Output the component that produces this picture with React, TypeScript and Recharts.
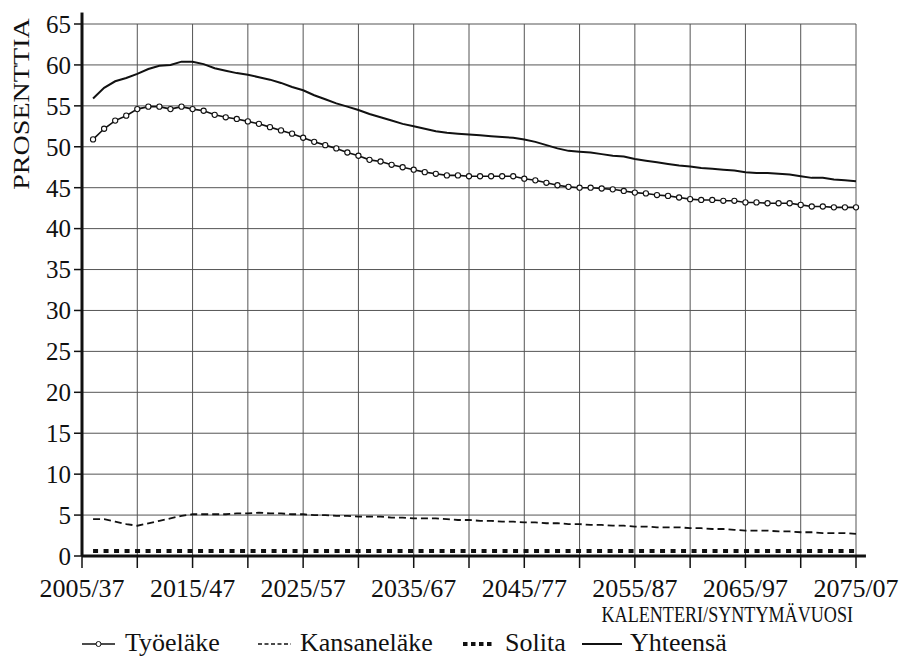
import { LineChart, Line, XAxis, YAxis, CartesianGrid, ReferenceLine } from 'recharts';

const years = Array.from({ length: 70 }, (_, i) => 2006 + i);

const tyoelake = [
  50.9, 52.2, 53.2, 53.8, 54.6, 54.9, 54.9, 54.6, 54.9, 54.6,
  54.4, 53.9, 53.6, 53.4, 53.1, 52.8, 52.4, 52.0, 51.6, 51.1,
  50.6, 50.2, 49.8, 49.3, 48.9, 48.4, 48.2, 47.8, 47.5, 47.2,
  46.9, 46.7, 46.5, 46.5, 46.4, 46.4, 46.4, 46.4, 46.4, 46.1,
  45.9, 45.6, 45.3, 45.1, 45.0, 45.0, 44.9, 44.8, 44.6, 44.4,
  44.3, 44.1, 44.0, 43.8, 43.6, 43.5, 43.5, 43.4, 43.4, 43.2,
  43.2, 43.1, 43.1, 43.1, 42.9, 42.7, 42.7, 42.6, 42.6, 42.6,
];

const kansanelake = [
  4.5, 4.5, 4.2, 3.9, 3.7, 4.0, 4.3, 4.6, 4.9, 5.1,
  5.1, 5.1, 5.1, 5.2, 5.2, 5.3, 5.2, 5.2, 5.1, 5.1,
  5.0, 5.0, 4.9, 4.9, 4.8, 4.8, 4.8, 4.7, 4.7, 4.6,
  4.6, 4.6, 4.5, 4.4, 4.4, 4.3, 4.3, 4.2, 4.2, 4.1,
  4.1, 4.0, 4.0, 3.9, 3.9, 3.8, 3.8, 3.7, 3.7, 3.6,
  3.6, 3.5, 3.5, 3.5, 3.4, 3.4, 3.3, 3.3, 3.2, 3.1,
  3.1, 3.1, 3.0, 3.0, 2.9, 2.9, 2.8, 2.8, 2.8, 2.7,
];

const solita = [
  0.6, 0.6, 0.6, 0.6, 0.6, 0.6, 0.6, 0.6, 0.6, 0.6,
  0.6, 0.6, 0.6, 0.6, 0.6, 0.6, 0.6, 0.6, 0.6, 0.6,
  0.6, 0.6, 0.6, 0.6, 0.6, 0.6, 0.6, 0.6, 0.6, 0.6,
  0.6, 0.6, 0.6, 0.6, 0.6, 0.6, 0.6, 0.6, 0.6, 0.6,
  0.6, 0.6, 0.6, 0.6, 0.6, 0.6, 0.6, 0.6, 0.6, 0.6,
  0.6, 0.6, 0.6, 0.6, 0.6, 0.6, 0.6, 0.6, 0.6, 0.6,
  0.6, 0.6, 0.6, 0.6, 0.6, 0.6, 0.6, 0.6, 0.6, 0.6,
];

const yhteensa = [
  55.9, 57.2, 58.0, 58.4, 58.9, 59.5, 59.9, 60.0, 60.4, 60.4,
  60.1, 59.6, 59.3, 59.0, 58.8, 58.5, 58.2, 57.8, 57.3, 56.9,
  56.3, 55.8, 55.3, 54.9, 54.5, 54.0, 53.6, 53.2, 52.8, 52.5,
  52.2, 51.9, 51.7, 51.6, 51.5, 51.4, 51.3, 51.2, 51.1, 50.9,
  50.6, 50.2, 49.8, 49.5, 49.4, 49.3, 49.1, 48.9, 48.8, 48.5,
  48.3, 48.1, 47.9, 47.7, 47.6, 47.4, 47.3, 47.2, 47.1, 46.9,
  46.8, 46.8, 46.7, 46.6, 46.4, 46.2, 46.2, 46.0, 45.9, 45.8,
];

const xTicks = [2005, 2010, 2015, 2020, 2025, 2030, 2035, 2040, 2045, 2050, 2055, 2060, 2065, 2070, 2075];
const yTicks = [0, 5, 10, 15, 20, 25, 30, 35, 40, 45, 50, 55, 60, 65];

const legendNames = ['Työeläke', 'Kansaneläke', 'Solita', 'Yhteensä'];

const data = years.map((y, i) => ({
  year: y,
  tyo: tyoelake[i],
  kansa: kansanelake[i],
  solita: solita[i],
  yht: yhteensa[i],
}));

const FONT = '"Liberation Serif", "Times New Roman", serif';

const fmtYear = (v: number) =>
  (v - 2005) % 10 === 0 ? `${v}/${String(v - 68).slice(-2)}` : '';

// the original title is set in a condensed face, so squeeze it horizontally
const XTitle = (props: any) => {
  const vb = props.viewBox || {};
  const x = vb.x + vb.width - 3;
  const y = vb.y + 66;
  return (
    <text
      x={0}
      y={0}
      textAnchor="end"
      fontFamily={FONT}
      fontSize={24}
      fill="#111"
      transform={`translate(${x}, ${y}) scale(0.755, 1)`}
    >
      KALENTERI/SYNTYMÄVUOSI
    </text>
  );
};

const YTitle = (props: any) => {
  const vb = props.viewBox || {};
  const cx = 29;
  const cy = vb.y + 80;
  return (
    <text
      x={0}
      y={0}
      textAnchor="middle"
      fontFamily={FONT}
      fontSize={24}
      fill="#111"
      transform={`translate(${cx}, ${cy}) rotate(-90) scale(1.17, 1)`}
    >
      PROSENTTIA
    </text>
  );
};

const LegendIcon = ({ kind }: { kind: number }) => {
  const w = kind === 3 ? 40 : 33;
  return (
    <svg width={w} height={12} style={{ position: 'absolute', left: 0, top: 7 }}>
      {kind === 0 && (
        <>
          <line x1={0} y1={6} x2={w} y2={6} stroke="#111" strokeWidth={1.6} />
          <circle cx={w / 2} cy={6} r={2.5} fill="#fff" stroke="#111" strokeWidth={1} />
        </>
      )}
      {kind === 1 && <line x1={0} y1={6} x2={w} y2={6} stroke="#111" strokeWidth={1.3} strokeDasharray="4 2.5" />}
      {kind === 2 && <line x1={1} y1={6} x2={w} y2={6} stroke="#111" strokeWidth={4} strokeDasharray="4.5 3.5" />}
      {kind === 3 && <line x1={0} y1={6} x2={w} y2={6} stroke="#111" strokeWidth={1.8} />}
    </svg>
  );
};

const legendIconLefts = [82, 258, 462, 582];
const legendTextLefts = [125, 300, 505, 630];

export default function App() {
  return (
    <div style={{ position: 'absolute', left: 0, top: 0, width: 904, height: 656, background: '#fff', overflow: 'hidden' }}>
      <LineChart
        width={904}
        height={656}
        data={data}
        margin={{ top: 24, right: 48, bottom: 0, left: 0 }}
      >
        <CartesianGrid stroke="#555" strokeWidth={1} />
        <XAxis
          dataKey="year"
          type="number"
          domain={[2005, 2075]}
          ticks={xTicks}
          interval={0}
          tickFormatter={fmtYear}
          height={100}
          stroke="#111"
          strokeWidth={3}
          tickSize={12}
          tickMargin={11}
          tickLine={{ stroke: '#111', strokeWidth: 1.5 }}
          tick={{ fontFamily: FONT, fontSize: 26, fill: '#111' }}
          label={<XTitle />}
        />
        <YAxis
          domain={[0, 65]}
          ticks={yTicks}
          interval={0}
          width={82}
          stroke="#111"
          strokeWidth={3}
          tickSize={8}
          tickMargin={3}
          tickLine={{ stroke: '#111', strokeWidth: 1.5 }}
          tick={{ fontFamily: FONT, fontSize: 25, fill: '#111' }}
          label={<YTitle />}
        />
        <ReferenceLine
          segment={[{ x: 2005, y: 65 }, { x: 2005, y: 66.4 }]}
          stroke="#111"
          strokeWidth={3}
          ifOverflow="visible"
        />
        <ReferenceLine
          segment={[{ x: 2075, y: 0 }, { x: 2075.9, y: 0 }]}
          stroke="#111"
          strokeWidth={3}
          ifOverflow="visible"
        />
        <Line
          dataKey="solita"
          stroke="#111"
          strokeWidth={4}
          strokeDasharray="5 5.5"
          dot={false}
          isAnimationActive={false}
        />
        <Line
          dataKey="kansa"
          stroke="#111"
          strokeWidth={1.8}
          strokeDasharray="7 4"
          dot={false}
          isAnimationActive={false}
        />
        <Line
          dataKey="yht"
          stroke="#111"
          strokeWidth={2}
          dot={false}
          isAnimationActive={false}
        />
        <Line
          dataKey="tyo"
          stroke="#111"
          strokeWidth={1.6}
          dot={{ r: 2.6, fill: '#fff', stroke: '#111', strokeWidth: 1.1 }}
          isAnimationActive={false}
        />
      </LineChart>
      {legendNames.map((name, i) => (
        <div key={name}>
          <div style={{ position: 'absolute', left: legendIconLefts[i], top: 631, width: 40, height: 24 }}>
            <LegendIcon kind={i} />
          </div>
          <span
            style={{
              position: 'absolute',
              left: legendTextLefts[i],
              top: 630,
              fontFamily: FONT,
              fontSize: 26,
              color: '#111',
              lineHeight: '26px',
              whiteSpace: 'nowrap',
            }}
          >
            {name}
          </span>
        </div>
      ))}
    </div>
  );
}
